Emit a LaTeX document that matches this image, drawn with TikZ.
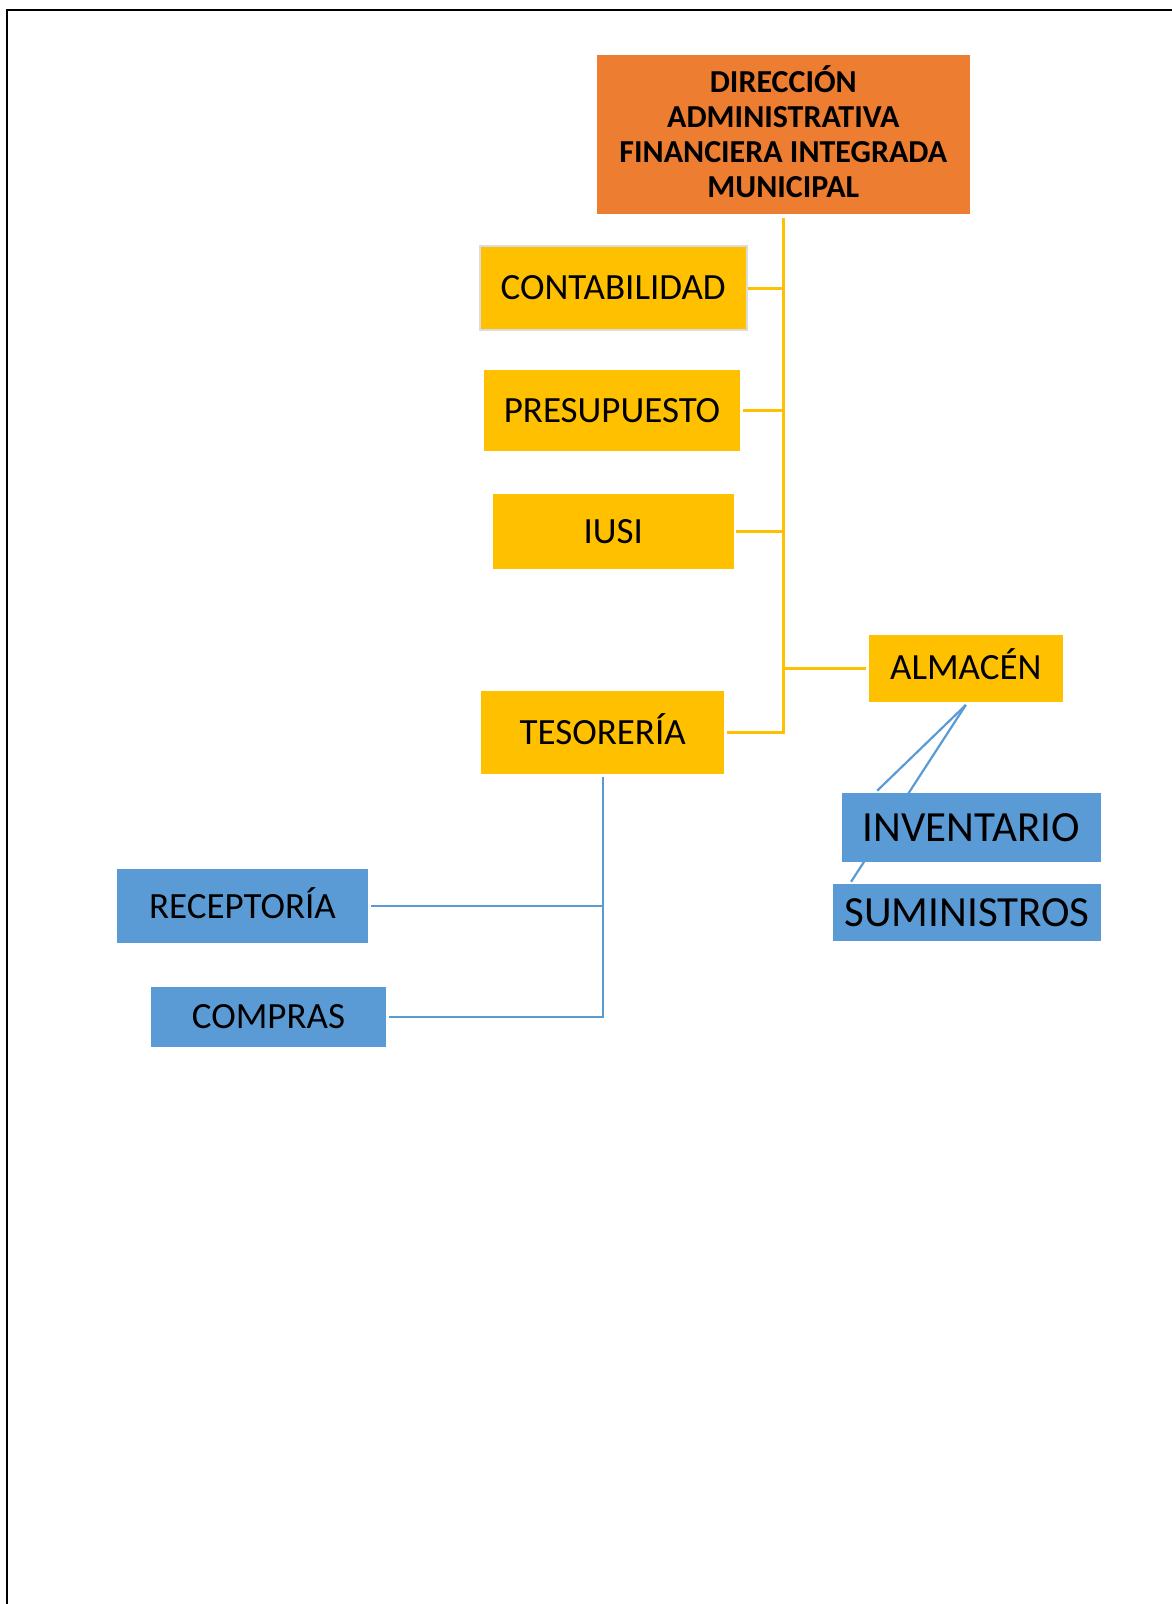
\documentclass[tikz,border=0pt]{standalone}
\usepackage{fontspec}
\setmainfont{Carlito}
\usetikzlibrary{calc}
\definecolor{orangeC}{HTML}{ED7D31}
\definecolor{yellowC}{HTML}{FFC000}
\definecolor{blueC}{HTML}{5B9BD5}
\definecolor{grayC}{HTML}{DCDCDC}
\pgfdeclarelayer{bg}
\pgfsetlayers{bg,main}
\begin{document}
\begin{tikzpicture}[x=1pt,y=-1pt,
  box/.style={rectangle, inner sep=0pt, outer sep=0pt, text=black, text height=23.5pt, text depth=0pt, font=\fontsize{37}{44}\selectfont},
  ybox/.style={box, fill=yellowC},
  bbox/.style={box, fill=blueC},
  big/.style={text height=27pt, font=\fontsize{43}{51}\selectfont},
  yline/.style={draw=yellowC, line width=2.7pt},
  bline/.style={draw=blueC, line width=2.2pt},
]
\useasboundingbox (0,0) rectangle (1172,1604);

\node[rectangle, fill=orangeC, minimum width=372.6pt, minimum height=159pt, inner sep=0pt, outer sep=0pt] (dir) at (783.3,134.8) {};
\node[align=center, inner sep=0pt, text=black, font=\bfseries\fontsize{32}{35}\selectfont] (dirtext) at ([yshift=3.5pt]dir.center) {DIRECCIÓN\\ADMINISTRATIVA\\FINANCIERA INTEGRADA\\MUNICIPAL};

\node[ybox, draw=grayC, line width=2.4pt, minimum width=267pt, minimum height=84pt] (conta) at (613.2,288.2) {CONTABILIDAD};
\node[ybox, minimum width=256pt, minimum height=80.7pt] (presu) at (612,410.3) {PRESUPUESTO};
\node[ybox, minimum width=240.8pt, minimum height=75.6pt] (iusi) at (613.2,531.5) {IUSI};
\node[ybox, minimum width=194.5pt, minimum height=67pt] (alm) at (965.8,668.2) {ALMACÉN};
\node[ybox, minimum width=243.3pt, minimum height=83pt] (teso) at (602.7,732.8) {TESORERÍA};

\node[bbox, big, minimum width=258.6pt, minimum height=69pt] (inv) at (971.3,827.8) {INVENTARIO};
\node[bbox, big, minimum width=267.3pt, minimum height=56.7pt] (sum) at (967,912.7) {SUMINISTROS};
\node[bbox, minimum width=251pt, minimum height=74pt] (rec) at (242.5,906.3) {RECEPTORÍA};
\node[bbox, minimum width=235.6pt, minimum height=60.6pt] (comp) at (268.5,1017) {COMPRAS};

\begin{pgfonlayer}{bg}
  \fill[white] (0,0) rectangle (1172,1604);
  \draw[black, line width=2pt] (6.8,1604) -- (6.8,10) -- (1172,10);
  % yellow tree
  \draw[yline] ([yshift=-3.4pt]dir.south) |- ([xshift=3pt]teso.east);
  \draw[yline] ([xshift=1.5pt]conta.east) -- (conta.east -| dir.south);
  \draw[yline] ([xshift=3pt]presu.east) -- (presu.east -| dir.south);
  \draw[yline] ([xshift=2.4pt]iusi.east) -- (iusi.east -| dir.south);
  \draw[yline] (alm.west -| dir.south) -- ([xshift=-2.5pt]alm.west);
  % blue tree
  \draw[bline] ([yshift=-3pt]teso.south) |- ([xshift=2.6pt]comp.east);
  \draw[bline] ([xshift=3.3pt]rec.east) -- (rec.east -| teso.south);
  % almacen branches
  \coordinate (invtop) at ($(inv.north west)+(35.2,-2.6)$);
  \coordinate (sumtop) at ($(sum.north west)+(17.7,-2.6)$);
  \draw[bline] ([yshift=-3.3pt]alm.south) -- (invtop);
  \draw[bline] ([yshift=-3.3pt]alm.south) -- (sumtop);
\end{pgfonlayer}
\end{tikzpicture}
\end{document}
